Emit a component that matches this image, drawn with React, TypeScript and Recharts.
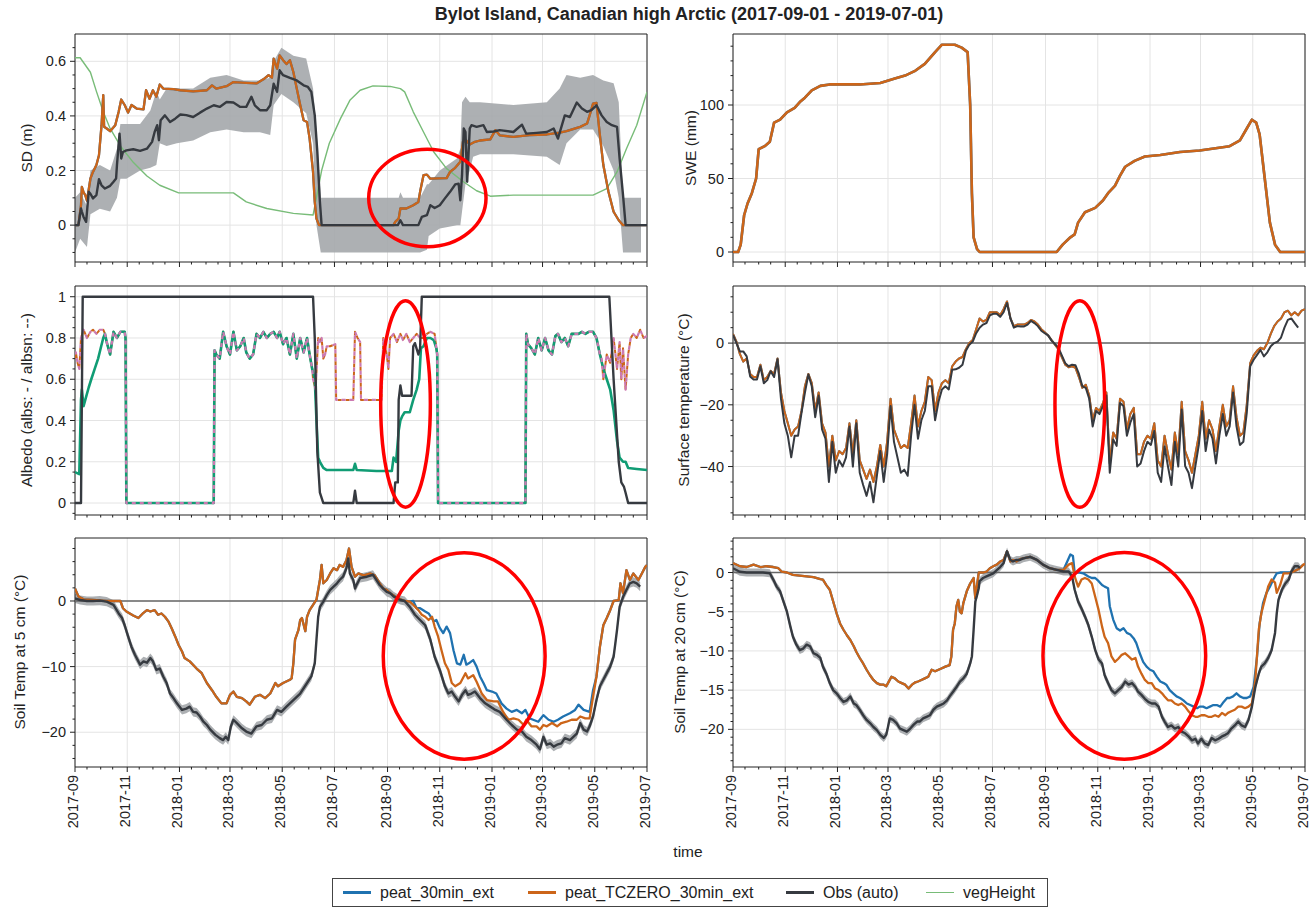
import React from "react";
import {
  ComposedChart,
  Line,
  Area,
  XAxis,
  YAxis,
  ReferenceLine,
  ReferenceArea,
} from "recharts";

const FONT = '"Liberation Sans", Arial, Helvetica, sans-serif';
const BLUE = "#1f72b0";
const ORANGE = "#cc6519";
const OBS = "#363a40";
const GREEN = "#78bc78";
const TEAL = "#109c74";
const PINK = "#cc79b0";
const BAND = "#a4a7ab";
const GRID = "#e4e4e4";
const INK = "#222";
const RED = "#ff0000";

// time axis: days since 2017-09-01
const monthStarts = [0, 30, 61, 91, 122, 153, 181, 212, 242, 273, 303, 334, 365, 395, 426, 456, 487, 518, 546, 577, 607, 638, 668];
const xMajor = [0, 61, 122, 181, 242, 303, 365, 426, 487, 546, 607, 668];
const xMajorLabels = ["2017-09", "2017-11", "2018-01", "2018-03", "2018-05", "2018-07", "2018-09", "2018-11", "2019-01", "2019-03", "2019-05", "2019-07"];
const xTicks = monthStarts.flatMap((m, i) => (i < monthStarts.length - 1 ? [m, m + 14] : [m]));

// ---- snow depth (m)
const sdModelDays = [0, 4, 7, 8, 10, 12, 14, 18, 21, 25, 28, 31, 33, 34, 37, 41, 47, 51, 54, 58, 62, 66, 72, 80, 83, 87, 91, 95, 99, 103, 115, 123, 138, 154, 160, 165, 177, 185, 200, 212, 220, 226, 230, 232, 236, 239, 243, 247, 251, 255, 259, 263, 267, 271, 274, 278, 280, 282, 285, 372, 374, 378, 380, 387, 395, 401, 403, 407, 411, 415, 434, 438, 444, 450, 453, 457, 461, 467, 473, 485, 491, 496, 512, 531, 551, 566, 574, 590, 598, 601, 605, 609, 613, 617, 623, 629, 635, 640, 668];
const sdModel = [0, 0, 0.073, 0.14, 0.12, 0.11, 0.09, 0.17, 0.195, 0.22, 0.256, 0.366, 0.476, 0.36, 0.354, 0.344, 0.366, 0.415, 0.46, 0.44, 0.412, 0.44, 0.427, 0.424, 0.494, 0.463, 0.494, 0.47, 0.515, 0.5, 0.498, 0.494, 0.49, 0.494, 0.512, 0.5, 0.509, 0.524, 0.521, 0.519, 0.534, 0.549, 0.54, 0.61, 0.573, 0.622, 0.604, 0.59, 0.604, 0.561, 0.5, 0.44, 0.384, 0.378, 0.317, 0.195, 0.085, 0.024, 0, 0, 0.012, 0.024, 0.061, 0.061, 0.073, 0.085, 0.122, 0.183, 0.185, 0.17, 0.172, 0.195, 0.21, 0.232, 0.305, 0.31, 0.295, 0.305, 0.31, 0.314, 0.348, 0.329, 0.323, 0.33, 0.332, 0.339, 0.344, 0.36, 0.372, 0.402, 0.445, 0.448, 0.329, 0.22, 0.122, 0.049, 0.018, 0, 0];
const sdObsDays = [0, 4, 7, 8, 10, 13, 16, 18, 21, 25, 28, 31, 35, 41, 45, 48, 49, 52, 54, 56, 60, 68, 76, 84, 90, 93, 96, 98, 100, 105, 111, 117, 123, 130, 138, 146, 154, 162, 169, 177, 185, 193, 200, 206, 210, 216, 224, 228, 232, 236, 239, 243, 251, 259, 267, 272, 276, 280, 283, 286, 288, 377, 380, 383, 401, 405, 411, 415, 420, 426, 432, 438, 444, 448, 450, 452, 454, 456, 458, 461, 463, 469, 477, 481, 489, 496, 512, 522, 527, 539, 551, 559, 564, 572, 578, 586, 592, 598, 603, 609, 615, 621, 627, 633, 636, 640, 643, 668];
const sdObs = [0, 0, 0.061, 0.05, 0.03, 0.012, 0.122, 0.115, 0.098, 0.11, 0.168, 0.146, 0.134, 0.144, 0.159, 0.171, 0.22, 0.335, 0.244, 0.268, 0.274, 0.278, 0.272, 0.28, 0.305, 0.341, 0.366, 0.311, 0.384, 0.402, 0.378, 0.39, 0.405, 0.403, 0.396, 0.412, 0.427, 0.439, 0.433, 0.451, 0.449, 0.433, 0.433, 0.47, 0.439, 0.421, 0.421, 0.439, 0.518, 0.488, 0.567, 0.549, 0.539, 0.53, 0.512, 0.506, 0.488, 0.402, 0.268, 0.085, 0, 0, 0.018, 0, 0, 0.03, 0.037, 0.073, 0.063, 0.073, 0.098, 0.122, 0.149, 0.152, 0.091, 0.183, 0.354, 0.341, 0.159, 0.354, 0.366, 0.36, 0.366, 0.341, 0.343, 0.348, 0.341, 0.368, 0.335, 0.338, 0.341, 0.354, 0.317, 0.402, 0.396, 0.449, 0.427, 0.415, 0.421, 0.439, 0.402, 0.378, 0.366, 0.36, 0.244, 0.11, 0, 0];
const sdBandDays = [0, 6, 14, 18, 29, 41, 49, 53, 60, 76, 88, 95, 99, 107, 119, 138, 158, 177, 197, 216, 228, 232, 241, 255, 270, 278, 282, 287, 378, 380, 383, 403, 411, 413, 426, 446, 450, 452, 456, 461, 465, 473, 512, 551, 566, 574, 590, 605, 617, 629, 635, 640, 661];
const sdBandLo = [-0.1, -0.05, -0.08, 0.04, 0.06, 0.05, 0.1, 0.17, 0.17, 0.2, 0.21, 0.22, 0.3, 0.29, 0.3, 0.31, 0.34, 0.35, 0.34, 0.34, 0.33, 0.44, 0.48, 0.45, 0.41, 0.3, 0.0, -0.1, -0.1, -0.1, -0.1, -0.1, -0.09, -0.04, -0.012, 0, 0, 0.05, 0.15, 0.2, 0.25, 0.26, 0.26, 0.25, 0.22, 0.3, 0.35, 0.35, 0.29, 0.2, 0.1, -0.1, -0.1];
const sdBandHi = [0.1, 0.12, 0.07, 0.2, 0.22, 0.2, 0.28, 0.37, 0.37, 0.37, 0.42, 0.49, 0.46, 0.5, 0.5, 0.5, 0.54, 0.55, 0.53, 0.53, 0.54, 0.6, 0.65, 0.62, 0.61, 0.5, 0.35, 0.1, 0.1, 0.12, 0.1, 0.1, 0.15, 0.15, 0.2, 0.244, 0.28, 0.45, 0.47, 0.45, 0.45, 0.45, 0.44, 0.45, 0.5, 0.55, 0.54, 0.55, 0.53, 0.52, 0.45, 0.1, 0.1];
const vegDays = [0, 6, 18, 25, 33, 41, 53, 68, 84, 99, 121, 185, 200, 224, 255, 278, 288, 297, 310, 321, 333, 348, 368, 380, 385, 395, 407, 419, 434, 454, 469, 485, 512, 605, 621, 633, 644, 656, 668];
const vegHeight = [0.613, 0.613, 0.56, 0.49, 0.415, 0.354, 0.29, 0.23, 0.18, 0.146, 0.118, 0.118, 0.085, 0.061, 0.043, 0.037, 0.2, 0.3, 0.39, 0.457, 0.494, 0.51, 0.508, 0.5, 0.488, 0.415, 0.341, 0.268, 0.207, 0.158, 0.126, 0.106, 0.11, 0.11, 0.134, 0.195, 0.28, 0.366, 0.488];

// ---- SWE (mm)
const sweDays = [0, 6, 9, 13, 17, 22, 27, 30, 37, 43, 48, 55, 63, 72, 78, 84, 92, 102, 113, 148, 172, 189, 201, 212, 224, 236, 244, 259, 267, 274, 277, 279, 281, 285, 288, 378, 385, 394, 399, 403, 411, 423, 432, 438, 446, 452, 458, 469, 481, 499, 522, 545, 580, 592, 600, 606, 611, 615, 621, 627, 633, 639, 668];
const swe = [0, 0, 5, 25, 33, 40, 50, 70, 72, 75, 88, 90, 95, 98, 102, 105, 110, 113, 114, 114, 115, 118, 120, 123, 128, 136, 141, 141, 139, 136, 100, 40, 10, 2, 0, 0, 5, 10, 12, 20, 27, 30, 35, 40, 45, 52, 58, 62, 65, 66, 68, 69, 72, 76, 84, 90, 88, 80, 50, 20, 5, 0, 0];

// ---- albedo
const albObsDays = [0, 7, 8, 9, 278, 280, 283, 286, 290, 325, 327, 329, 372, 374, 377, 378, 380, 382, 393, 395, 397, 401, 403, 405, 624, 629, 635, 638, 641, 643, 646, 668];
const albObs = [0, 0, 0.5, 1, 1, 0.8, 0.25, 0.05, 0, 0, 0.06, 0, 0, 0.1, 0.1, 0.5, 0.57, 0.52, 0.52, 0.76, 0.775, 0.72, 0.75, 1, 1, 0.6, 0.2, 0.1, 0.08, 0.05, 0, 0];
const albSharedADays = [37, 41, 45, 49, 53, 58, 59, 60, 162, 163, 165, 169, 173, 177, 181, 185, 189, 193, 197, 200, 204, 208, 212, 216, 220, 224, 228, 232, 236, 239, 243, 247, 251, 255, 259, 263, 267, 271, 274, 277];
const albSharedA = [0.78, 0.72, 0.83, 0.8, 0.83, 0.83, 0.8, 0, 0, 0.74, 0.72, 0.7, 0.83, 0.76, 0.72, 0.83, 0.74, 0.76, 0.8, 0.73, 0.7, 0.72, 0.82, 0.8, 0.83, 0.8, 0.82, 0.83, 0.8, 0.83, 0.77, 0.8, 0.72, 0.82, 0.7, 0.8, 0.73, 0.8, 0.72, 0.65];
const albSharedBDays = [424, 526, 527, 529, 533, 537, 541, 545, 549, 553, 557, 561, 564, 568, 572, 576, 580, 584, 588, 592, 596, 600, 605, 609, 613];
const albSharedB = [0, 0, 0.82, 0.77, 0.75, 0.72, 0.8, 0.74, 0.8, 0.74, 0.72, 0.81, 0.82, 0.78, 0.8, 0.76, 0.82, 0.82, 0.82, 0.83, 0.82, 0.83, 0.83, 0.8, 0.72];
const albsStartDays = [0, 5, 7, 8, 10, 12, 16, 19, 23, 27, 30, 33, 35];
const albsStart = [0.15, 0.14, 0.5, 0.55, 0.47, 0.5, 0.56, 0.6, 0.65, 0.7, 0.75, 0.8, 0.82];
const albsMidDays = [280, 282, 284, 286, 290, 294, 325, 327, 329, 352, 370, 372, 375, 378, 380, 382, 385, 391, 395, 399, 402, 404, 407, 411, 415, 419, 422, 423];
const albsMid = [0.6, 0.4, 0.22, 0.2, 0.17, 0.16, 0.16, 0.19, 0.16, 0.155, 0.155, 0.22, 0.2, 0.35, 0.4, 0.42, 0.44, 0.44, 0.5, 0.55, 0.6, 0.75, 0.76, 0.8, 0.8, 0.79, 0.75, 0.72];
const albsEndDays = [617, 621, 625, 629, 633, 636, 640, 643, 646, 656, 668];
const albsEnd = [0.65, 0.6, 0.55, 0.45, 0.3, 0.22, 0.2, 0.2, 0.17, 0.165, 0.16];
const albsnStartDays = [0, 1, 3, 5, 7, 10, 14, 18, 21, 25, 29, 33, 35];
const albsnStart = [0.7, 0.73, 0.68, 0.65, 0.8, 0.84, 0.8, 0.83, 0.84, 0.82, 0.84, 0.84, 0.82];
const albsnMidDays = [278, 281, 284, 286, 288, 290, 292, 294, 298, 304, 305, 325, 327, 330, 333, 334, 358, 360, 364, 366, 368, 372, 376, 380, 383, 387, 391, 395, 399, 403, 407, 411, 415, 420, 423];
const albsnMid = [0.6, 0.55, 0.8, 0.78, 0.8, 0.7, 0.72, 0.76, 0.76, 0.77, 0.5, 0.5, 0.83, 0.8, 0.78, 0.5, 0.5, 0.8, 0.72, 0.65, 0.8, 0.82, 0.78, 0.82, 0.79, 0.82, 0.78, 0.8, 0.82, 0.8, 0.8, 0.82, 0.83, 0.82, 0.72];
const albsnEndDays = [615, 617, 621, 625, 629, 633, 636, 638, 640, 643, 646, 649, 652, 656, 660, 664, 668];
const albsnEnd = [0.7, 0.6, 0.72, 0.68, 0.8, 0.65, 0.78, 0.6, 0.75, 0.55, 0.72, 0.8, 0.82, 0.8, 0.84, 0.8, 0.81];

// ---- surface temperature (°C), sampled every 4 days
const tsDays = Array.from({ length: 168 }, (_, i) => i * 4);
const tsObs = [
  2.7, 0, -2.7, -2.7, -4.3, -10.8, -11.8, -11.8, -7.5, -13,
  -12, -9.1, -11, -5.2, -18, -26, -30, -37, -30, -30,
  -22.6, -16, -10.2, -14, -24, -17, -28, -31, -45, -32,
  -42, -38, -40, -37, -27, -40, -26, -42, -46, -49.5,
  -45, -51.6, -43, -35, -45, -36, -20.4, -32, -37, -42,
  -41, -43, -30, -20, -31, -25, -22, -14, -14, -25,
  -19, -15, -14, -15, -8.6, -8.5, -8, -7, -2.5, -0.5,
  0.5, 3.2, 5, 6, 6.5, 9, 9.5, 9.5, 8.5, 10,
  13, 8, 5, 5.5,
  5.4, 5.4, 6, 7.2, 6.5, 5.5, 4, 3.2, 2.5, 0.8,
  -0.3, -1.5, -4, -6.5, -7.5, -7, -7.2, -10, -14, -14.5,
  -18, -27, -22, -23, -20.4, -17, -42, -31.2, -33.3, -19.4,
  -20.4, -30, -25.8, -23, -40, -39, -35, -32, -33, -28.5,
  -42, -45, -33.5, -40, -46, -32, -40, -21.5, -39.8, -42,
  -47, -39.8, -33, -22, -35, -28, -31, -39, -30, -23,
  -30, -27, -16, -27, -33, -32, -22.6, -7.5, -5.4, -3.8,
  -2.2, -4.3, -3, -1, 0, 0.5, 1.8, 5, 7.5, 8,
  6.5, 5, null, null,
];
const tsModel = [
  3, 0.5, -3.5, -6, -5, -10, -11, -11, -7, -12,
  -11, -9, -10, -5, -16, -22, -26, -30, -28, -27,
  -22, -14, -10, -13, -22, -16, -26, -29, -40, -30,
  -38, -35, -36, -34, -26, -36, -25, -38, -41, -44,
  -41, -45, -40, -33, -40, -32, -18, -28, -31, -34,
  -33, -34, -26, -17, -27, -22, -19, -11, -12, -22,
  -16, -13, -12, -13, -7.5, -6, -5, -4.5, -2, 0,
  1, 4.5, 8, 7, 7.5, 10, 10, 10, 9, 11,
  13.5, 8, 5.5, 6,
  6, 6, 6.5, 7.5, 7, 6, 4.5, 3.5, 2.5, 1,
  -0.5, -2, -4.5, -7, -7.8, -7.5, -8, -11, -14.5, -13.5,
  -17, -25, -21, -22, -19.5, -16, -39, -29, -31, -18,
  -19, -28, -23, -21, -36, -36, -32, -30, -31, -26,
  -38, -40, -30, -36, -41, -29, -36, -19, -35, -38,
  -42, -36, -30, -19, -31, -25, -28, -35, -27, -20,
  -27, -25, -14, -24, -30, -29, -20, -6.5, -4, -2.5,
  -1.5, -2, 0, 3, 5.5, 7, 8, 10, 10.5, 9,
  10, 9, 10.5, 11,
];

// ---- soil temperature at 5 cm (°C)
const soil5ObsDays = [0, 6, 14, 21, 29, 37, 45, 51, 55, 58, 62, 66, 70, 76, 80, 84, 88, 91, 95, 99, 103, 107, 111, 115, 119, 125, 130, 134, 138, 142, 146, 150, 154, 158, 164, 169, 173, 176, 179, 182, 185, 189, 195, 200, 206, 212, 218, 224, 230, 236, 241, 247, 255, 263, 271, 276, 280, 282, 284, 286, 290, 294, 298, 302, 306, 309, 313, 317, 319, 321, 325, 327, 329, 333, 341, 348, 356, 360, 364, 368, 372, 376, 380, 385, 391, 397, 403, 409, 415, 420, 426, 432, 436, 440, 444, 448, 452, 456, 459, 463, 467, 473, 479, 485, 491, 496, 504, 510, 516, 522, 527, 533, 539, 543, 547, 551, 555, 559, 563, 568, 572, 578, 582, 586, 590, 594, 598, 601, 605, 609, 613, 617, 621, 625, 629, 631, 633, 636, 640, 644, 648, 652, 656, 660];
const soil5Obs = [0.4, 0.15, 0, 0, 0.05, -0.1, -0.6, -1.9, -2.6, -3.7, -5.4, -7, -8.2, -9.7, -9.2, -9.4, -8.7, -9.2, -10.5, -10.3, -11.5, -12.5, -14.1, -14.8, -15.6, -16.6, -16.4, -16.1, -16.9, -17, -17.6, -18.4, -18.9, -19.6, -20.4, -20.9, -21.2, -20.7, -21.2, -19.1, -18.1, -18.6, -19.4, -19.9, -20.2, -19.1, -18.9, -18.1, -17.9, -16.6, -16.9, -16.1, -15.1, -14.1, -12.5, -11.5, -9.5, -5.9, -2.4, -0.9, -0.1, 0.9, 1.7, 2.2, 2.7, 3.2, 3.7, 5, 6.5, 4.2, 3.2, 1.9, 2.5, 3.5, 3.7, 4, 2.4, 1.9, 1.4, 1.2, 0.7, 0.4, 0.15, 0, -0.9, -2.1, -2.9, -3.7, -5.9, -8.5, -10.5, -13, -14.1, -13.8, -14.6, -15.3, -14.3, -13.6, -14.3, -14.1, -13.8, -14.8, -15.6, -16.1, -16.6, -16.9, -18.1, -18.9, -19.6, -19.9, -20.7, -21.2, -21.9, -22.6, -20.7, -21.9, -21.7, -22.2, -21.9, -21.7, -20.9, -21.2, -20.7, -20.2, -18.6, -19.6, -19.9, -19.1, -17.6, -15.1, -13, -12, -11, -10, -8.5, -6.5, -4.4, -0.9, 0.6, 1.7, 2.7, 2.9, 2.7, 2.2];
const soil5Spread = 0.7;
const soil5ModelY1Days = [0, 4, 10, 21, 37, 53, 56, 60, 64, 68, 74, 80, 84, 88, 93, 97, 101, 105, 109, 113, 117, 121, 125, 128, 134, 142, 148, 154, 160, 165, 171, 177, 181, 185, 189, 195, 200, 204, 210, 216, 222, 228, 234, 237, 243, 251, 253, 255, 257, 261, 263, 265, 269, 271, 274, 278, 282, 286, 288, 290, 294, 298, 302, 306, 309, 313, 317, 320, 323, 327, 331, 337, 345, 350, 356, 360, 364, 368, 374, 380, 385, 391];
const soil5ModelY1 = [1.9, 0.7, 0.25, 0.15, 0, 0, -1.1, -1.6, -1.9, -2.2, -2.6, -1.8, -1.4, -1.6, -1.4, -2.1, -1.9, -2.4, -3.1, -4.2, -5.4, -6.7, -7.7, -8.7, -9.2, -10.3, -11, -12.5, -13.6, -14.6, -15.6, -15.6, -14.3, -13.8, -14.6, -14.8, -15.3, -15.8, -14.6, -14.3, -14.8, -14.1, -12.5, -13, -12.5, -12, -11.8, -9.5, -5.9, -4.4, -2.9, -2.6, -4.6, -2.4, -1.4, -0.6, 0.2, 3.2, 5.5, 2.7, 3.2, 4.2, 5, 4.7, 5.5, 5.2, 6.2, 8, 5.2, 3.7, 4.2, 3.9, 4.2, 3.9, 2.7, 1.9, 1.7, 1.2, 0.7, 0.25, 0, -0.1];
const soil5OrangeDays = [395, 401, 405, 409, 413, 417, 420, 424, 428, 432, 436, 440, 444, 450, 456, 459, 465, 469, 475, 481, 489, 494, 500, 506, 512, 518, 524, 527, 533, 539, 543, 547, 551, 557, 563, 568, 574, 580, 586, 590, 596, 601, 605];
const soil5Orange = [-0.6, -1.4, -2.1, -2.4, -2.9, -2.4, -3.9, -5.4, -7.5, -9.5, -10.5, -12.5, -13, -12.5, -11, -11.8, -11.3, -12.3, -14.1, -15.1, -15.3, -15.3, -16.9, -18.1, -17.9, -18.1, -18.9, -18.1, -19.1, -19.1, -19.6, -18.9, -19.1, -18.6, -19.1, -18.6, -18.4, -18.1, -18.1, -17.6, -17.9, -17.9, -14.6];
const soil5BlueDays = [395, 399, 403, 409, 413, 419, 422, 426, 430, 434, 438, 442, 446, 450, 454, 457, 461, 465, 469, 473, 477, 481, 487, 492, 498, 504, 510, 516, 522, 526, 531, 535, 541, 547, 553, 559, 564, 570, 578, 584, 588, 594, 601, 605];
const soil5Blue = [0, -1.1, -1.1, -1.6, -1.9, -3.1, -2.9, -4.1, -4.9, -3.9, -4.9, -7.5, -9.5, -9.7, -8.2, -9.7, -9.4, -9, -10, -11.5, -12.5, -13.6, -13.8, -14.1, -15.6, -16.4, -16.9, -16.6, -17.1, -16.6, -17.9, -18.1, -18.4, -17.4, -18.1, -18.4, -18.1, -17.6, -17.1, -16.6, -15.8, -16.6, -16.9, -13.6];
const soil5ModelEndDays = [609, 613, 617, 621, 625, 629, 635, 637, 640, 644, 648, 652, 658, 662, 666, 668];
const soil5ModelEnd = [-11.5, -7, -3.7, -2.6, -1.4, 0, 0.15, 2.7, 1.2, 4.7, 3.2, 4.2, 3.2, 4.2, 5.2, 5.5];

// ---- soil temperature at 20 cm (°C)
const soil20ObsDays = [0, 8, 16, 24, 35, 43, 47, 51, 55, 59, 63, 67, 70, 74, 78, 82, 86, 90, 94, 98, 102, 105, 109, 113, 117, 121, 125, 129, 133, 137, 141, 144, 148, 152, 156, 160, 164, 168, 172, 176, 179, 181, 183, 187, 191, 195, 199, 203, 207, 211, 215, 218, 222, 226, 230, 234, 238, 242, 246, 250, 253, 257, 261, 265, 269, 273, 277, 279, 281, 283, 285, 287, 288, 292, 296, 300, 304, 308, 312, 316, 320, 322, 324, 327, 331, 335, 339, 347, 351, 355, 362, 370, 378, 386, 392, 396, 399, 403, 407, 411, 415, 419, 423, 427, 431, 434, 438, 442, 446, 450, 454, 458, 462, 466, 470, 473, 477, 481, 485, 489, 493, 497, 501, 504, 508, 512, 516, 520, 524, 528, 532, 536, 540, 543, 547, 551, 555, 559, 563, 567, 571, 575, 578, 582, 586, 590, 594, 598, 602, 606, 610, 614, 617, 621, 625, 629, 633, 635, 637, 641, 645, 649, 652, 656, 660, 662];
const soil20Obs = [0.55, 0.1, 0, 0, 0, -0.1, -0.9, -1.8, -2.4, -3.7, -5, -6.9, -8.2, -9.2, -9.9, -9.7, -9.2, -9.4, -10.3, -10.5, -10.9, -12, -12.9, -14.1, -15, -15.4, -16, -16.5, -16.3, -15.8, -16.7, -16.9, -17.5, -18.2, -18.8, -19.2, -19.7, -20.1, -20.7, -21.1, -20.7, -19.7, -18.6, -18.8, -19.2, -19.9, -20.1, -20.3, -19.9, -19.4, -19, -19, -18.6, -18.4, -18.2, -17.5, -17.1, -16.9, -16.7, -16.3, -15.8, -15.2, -14.6, -13.9, -13.5, -12.9, -11.6, -10.7, -7.3, -3.7, -2.9, -2, -1.1, -0.7, -0.5, -0.3, -0.1, 0.3, 0.7, 1.2, 2.7, 2.1, 1.6, 1.4, 1.6, 1.6, 1.8, 2, 1.8, 1.6, 1, 0.55, 0.34, 0.13, 0.13, -0.5, -2.2, -3.7, -4.6, -5.6, -6.7, -8.2, -9.9, -11.1, -11.6, -13.1, -14.1, -15, -15.4, -15, -14.6, -13.9, -14.3, -14.1, -14.6, -15.2, -15.6, -16.1, -16.5, -16.7, -16.7, -17.1, -18.4, -19, -19.7, -19.5, -19.9, -19.7, -20.3, -20.5, -20.9, -21.4, -21.2, -21.8, -21.2, -21.8, -22, -21.1, -21.4, -21.2, -20.9, -20.7, -20.5, -19.9, -19.5, -19, -19.5, -19.7, -18.8, -17.1, -14.6, -12.9, -12, -11.6, -10.9, -9.9, -7.7, -5.2, -3.5, -2.2, -1.4, -0.9, 0.1, 0.8, 0.8, 0.55];
const soil20Spread = 0.5;
const soil20ModelY1Days = [0, 8, 16, 24, 32, 39, 47, 53, 57, 63, 70, 78, 86, 94, 102, 105, 109, 113, 117, 121, 125, 129, 133, 137, 141, 144, 148, 152, 156, 160, 164, 168, 172, 176, 179, 181, 185, 189, 193, 197, 201, 205, 209, 213, 216, 220, 224, 228, 232, 236, 240, 244, 248, 253, 255, 257, 259, 261, 263, 265, 267, 269, 273, 277, 281, 283, 287, 292, 296, 300, 304, 308, 312, 316, 320, 324, 327, 331, 335, 339, 347, 355, 362, 370, 378, 386];
const soil20ModelY1 = [1.2, 0.8, 0.7, 1, 0.7, 0.8, 0.7, 0.55, 0.1, 0, -0.3, -0.4, -0.5, -0.6, -0.85, -0.9, -1.6, -2.2, -3.7, -5.2, -6.5, -7.3, -8, -8.6, -9.4, -10.1, -10.9, -11.6, -12.4, -13.1, -13.7, -14.1, -14.3, -14.3, -14.5, -14.1, -13.3, -13.5, -13.9, -14.1, -14.3, -14.8, -14.3, -14, -13.9, -13.7, -13.5, -13.3, -12.4, -12.6, -12.4, -12.2, -12, -11.8, -10.7, -7.3, -6.5, -4.3, -3.5, -5, -5.2, -3.9, -2.4, -1.4, -0.7, -3.3, 0, 0, 0.1, 0.55, 0.8, 1, 1.4, 1.6, 2.7, 1.4, 1.6, 1.4, 1.7, 1.8, 2, 1.6, 1, 0.55, 0.34, 0.34];
const soil20OrangeDays = [392, 396, 399, 403, 407, 411, 415, 419, 423, 427, 431, 434, 438, 442, 446, 450, 454, 458, 462, 466, 470, 473, 477, 481, 485, 489, 493, 497, 501, 504, 508, 512, 516, 520, 524, 528, 532, 536, 540, 543, 547, 551, 555, 559, 563, 567, 571, 575, 578, 582, 586, 590, 594, 598, 602, 606, 610, 614, 617, 621, 625, 629, 633, 635, 639, 643, 649, 654, 658, 662, 666, 668];
const soil20Orange = [1, 1.2, -0.5, -1.8, -0.9, -0.7, -0.9, -1.4, -3.1, -4.8, -6.9, -8.2, -9, -10.7, -11.4, -11, -10.5, -10.3, -10.7, -11.1, -10.9, -12, -12.9, -13.7, -14.1, -14.1, -14.8, -15, -15.4, -15.8, -16.3, -16.3, -16.7, -16.9, -16.7, -17.1, -17.7, -18.2, -18.4, -18.4, -18.2, -18.2, -18.4, -18.4, -18.2, -18.4, -17.9, -18.2, -17.9, -17.7, -17.5, -17.1, -17.1, -17.3, -17.1, -16.7, -13.7, -7.3, -5.2, -3.5, -1.8, -0.9, -1.3, -2.6, -1.6, -0.1, -0.1, 0.1, 0.3, 0.55, 1, 1.1];
const soil20BlueDays = [394, 397, 399, 405, 409, 415, 419, 423, 427, 431, 434, 438, 440, 444, 448, 452, 456, 460, 464, 468, 471, 475, 479, 483, 487, 491, 495, 499, 503, 506, 510, 514, 518, 522, 526, 530, 534, 538, 542, 545, 549, 553, 557, 561, 565, 569, 573, 577, 580, 584, 588, 592, 596, 600, 604, 608, 612, 615, 619, 623, 627, 631, 635, 639, 651, 658, 666];
const soil20Blue = [2.3, 2.1, 0, 0, -0.1, -0.5, -0.7, -0.7, -1.1, -1.6, -1.8, -2, -4.3, -6, -7.1, -7.4, -7.1, -7.7, -7.9, -8.4, -9, -10.3, -11.4, -12, -12.4, -12.6, -13.3, -13.9, -14.1, -14.3, -15, -15.4, -15.8, -16, -16.3, -16.7, -16.9, -17.1, -17.3, -17.1, -17.1, -17.3, -17.1, -16.9, -16.9, -17.1, -16.5, -16, -16, -15.8, -15.4, -15.8, -16, -16, -15.8, -14.6, -10.7, -6.5, -3.9, -2.6, -1.8, -0.9, -0.1, 0, 0, 0.3, 1];

// ---- y ticks
const sdTicks = [-0.1, -0.05, 0, 0.05, 0.1, 0.15, 0.2, 0.25, 0.3, 0.35, 0.4, 0.45, 0.5, 0.55, 0.6, 0.65];
const sdMajor = [0, 0.2, 0.4, 0.6];
const sweTicks = [0, 10, 20, 30, 40, 50, 60, 70, 80, 90, 100, 110, 120, 130, 140];
const sweMajor = [0, 50, 100];
const albTicks = [-0.05, 0, 0.05, 0.1, 0.15, 0.2, 0.25, 0.3, 0.35, 0.4, 0.45, 0.5, 0.55, 0.6, 0.65, 0.7, 0.75, 0.8, 0.85, 0.9, 0.95, 1];
const albMajor = [0, 0.2, 0.4, 0.6, 0.8, 1];
const tsTicks = [-55, -50, -45, -40, -35, -30, -25, -20, -15, -10, -5, 0, 5, 10, 15];
const tsMajor = [-40, -20, 0];
const soil5Ticks = [-24, -22, -20, -18, -16, -14, -12, -10, -8, -6, -4, -2, 0, 2, 4, 6, 8];
const soil5Major = [-20, -10, 0];
const soil20Ticks = [-24, -23, -22, -21, -20, -19, -18, -17, -16, -15, -14, -13, -12, -11, -10, -9, -8, -7, -6, -5, -4, -3, -2, -1, 0, 1, 2, 3, 4];
const soil20Major = [-20, -15, -10, -5, 0];

// red ellipses drawn on the figure (data units)
const sdMark = { x1: 343, x2: 480, y1: -0.079, y2: 0.278 };
const albMark = { x1: 357, x2: 415, y1: -0.02, y2: 0.98 };
const tsMark = { x1: 376, x2: 434, y1: -53.2, y2: 13.7 };
const soil5Mark = { x1: 360, x2: 549, y1: -24.1, y2: 7.35 };
const soil20Mark = { x1: 362, x2: 552, y1: -23.8, y2: 2.55 };

type Pt = { d: number; v: number | null };
const zip = (days: number[], vals: (number | null)[]): Pt[] => days.map((d, i) => ({ d, v: vals[i] }));
const band = (days: number[], lo: number[], hi: number[]) => days.map((d, i) => ({ d, r: [lo[i], hi[i]] }));
const spread = (days: number[], vals: number[], s: number) => days.map((d, i) => ({ d, r: [vals[i] - s, vals[i] + s] }));

const sdModelData = zip(sdModelDays, sdModel);
const sdObsData = zip(sdObsDays, sdObs);
const sdBandData = band(sdBandDays, sdBandLo, sdBandHi);
const vegData = zip(vegDays, vegHeight);
const sweData = zip(sweDays, swe);
const albObsData = zip(albObsDays, albObs);
const albsData = zip(
  [...albsStartDays, ...albSharedADays, ...albsMidDays, ...albSharedBDays, ...albsEndDays],
  [...albsStart, ...albSharedA, ...albsMid, ...albSharedB, ...albsEnd]
);
const albsnData = zip(
  [...albsnStartDays, ...albSharedADays, ...albsnMidDays, ...albSharedBDays, ...albsnEndDays],
  [...albsnStart, ...albSharedA, ...albsnMid, ...albSharedB, ...albsnEnd]
);
const tsObsData = zip(tsDays, tsObs);
const tsModelData = zip(tsDays, tsModel);
const soil5ObsData = zip(soil5ObsDays, soil5Obs);
const soil5BandData = spread(soil5ObsDays, soil5Obs, soil5Spread);
const soil5OrangeData = zip(
  [...soil5ModelY1Days, ...soil5OrangeDays, ...soil5ModelEndDays],
  [...soil5ModelY1, ...soil5Orange, ...soil5ModelEnd]
);
const soil5BlueData = zip(
  [...soil5ModelY1Days, ...soil5BlueDays, ...soil5ModelEndDays],
  [...soil5ModelY1, ...soil5Blue, ...soil5ModelEnd]
);
const soil20ObsData = zip(soil20ObsDays, soil20Obs);
const soil20BandData = spread(soil20ObsDays, soil20Obs, soil20Spread);
const soil20OrangeData = zip([...soil20ModelY1Days, ...soil20OrangeDays], [...soil20ModelY1, ...soil20Orange]);
const soil20BlueData = zip([...soil20ModelY1Days, ...soil20BlueDays], [...soil20ModelY1, ...soil20Blue]);

// layout
const YW = 75;
const MT = 6;
const PW = 572;
const colLeft = [75, 733];
const colMR = [10, 8];
const rowTop = [34, 286, 538];
const rowH = [228, 229, 229];
const TICK_FS = 14.5;
const LABEL_FS = 15.5;

const fmtNum = (v: number) => (v < 0 ? "\u2212" : "") + String(Math.abs(v));

const xTick = (showLabels: boolean) => (p: any) => {
  const i = xMajor.indexOf(p.payload.value);
  const major = i >= 0;
  const ty = p.y + 8;
  const tx = p.x - 2;
  return (
    <g>
      <line x1={p.x} x2={p.x} y1={p.y} y2={p.y + (major ? 5 : 2.5)} stroke={INK} strokeWidth={1} />
      {showLabels && major && (
        <text x={tx} y={ty} transform={`rotate(-90 ${tx} ${ty})`} textAnchor="end" dominantBaseline="central" fontSize={TICK_FS} fill={INK} fontFamily={FONT}>
          {xMajorLabels[i]}
        </text>
      )}
    </g>
  );
};

const yTick = (major: number[]) => (p: any) => {
  const v = p.payload.value;
  const isMajor = major.includes(v);
  return (
    <g>
      <line x1={p.x} x2={p.x - (isMajor ? 5 : 2.5)} y1={p.y} y2={p.y} stroke={INK} strokeWidth={1} />
      {isMajor && (
        <text x={p.x - 9} y={p.y} textAnchor="end" dominantBaseline="central" fontSize={TICK_FS} fill={INK} fontFamily={FONT}>
          {fmtNum(v)}
        </text>
      )}
    </g>
  );
};

const ellipse = (p: any) => (
  <ellipse cx={p.x + p.width / 2} cy={p.y + p.height / 2} rx={p.width / 2} ry={p.height / 2} fill="none" stroke={RED} strokeWidth={3.5} />
);

const line = (key: string, data: Pt[], color: string, width: number, dash?: string, offset?: number) => (
  <Line
    key={key}
    data={data}
    dataKey="v"
    type="linear"
    stroke={color}
    strokeWidth={width}
    strokeDasharray={dash}
    strokeDashoffset={offset}
    strokeLinejoin="round"
    dot={false}
    activeDot={false}
    isAnimationActive={false}
  />
);

const area = (key: string, data: any[]) => (
  <Area key={key} data={data} dataKey="r" type="linear" stroke="none" fill={BAND} fillOpacity={0.9} isAnimationActive={false} />
);

type Mark = { x1: number; x2: number; y1: number; y2: number };

function Panel(props: {
  col: number;
  row: number;
  domain: [number, number];
  yTicks: number[];
  yMajor: number[];
  zero?: boolean;
  mark?: Mark;
  children: React.ReactNode;
}) {
  const { col, row, domain, yTicks, yMajor, zero, mark, children } = props;
  const bottom = row === 2;
  const xh = bottom ? 80 : 10;
  const ph = rowH[row];
  const mr = colMR[col];
  return (
    <div style={{ position: "absolute", left: colLeft[col] - YW, top: rowTop[row] - MT }}>
      <ComposedChart width={YW + PW + mr} height={MT + ph + xh} margin={{ top: MT, right: mr, bottom: 0, left: 0 }}>
        {xMajor.map((v) => (
          <ReferenceLine key={`gx${v}`} x={v} stroke={GRID} strokeWidth={1} zIndex={-50} />
        ))}
        {yMajor.map((v) => (
          <ReferenceLine key={`gy${v}`} y={v} stroke={GRID} strokeWidth={1} zIndex={-50} />
        ))}
        <XAxis
          type="number"
          dataKey="d"
          domain={[0, 668]}
          ticks={xTicks}
          interval={0}
          tickSize={0}
          tickMargin={0}
          tickLine={false}
          axisLine={false}
          height={xh}
          tick={xTick(bottom)}
          allowDataOverflow
        />
        <YAxis
          type="number"
          domain={domain}
          ticks={yTicks}
          interval={0}
          tickSize={0}
          tickMargin={0}
          tickLine={false}
          axisLine={false}
          width={YW}
          tick={yTick(yMajor)}
          allowDataOverflow
        />
        {zero && <ReferenceLine y={0} stroke="#666" strokeWidth={1.5} />}
        {children}
        <ReferenceArea x1={0} x2={668} y1={domain[0]} y2={domain[1]} fill="none" stroke={INK} strokeWidth={1} ifOverflow="visible" />
        {mark && (
          <ReferenceArea x1={mark.x1} x2={mark.x2} y1={mark.y1} y2={mark.y2} shape={ellipse} ifOverflow="visible" zIndex={1000} />
        )}
      </ComposedChart>
    </div>
  );
}

const yTitle = (text: string, cx: number, cy: number) => (
  <div
    key={text}
    style={{
      position: "absolute",
      left: cx,
      top: cy,
      transform: "translate(-50%, -50%) rotate(-90deg)",
      whiteSpace: "nowrap",
      fontSize: LABEL_FS,
      color: INK,
    }}
  >
    {text}
  </div>
);

const legendItems = [
  { label: "peat_30min_ext", color: BLUE, w: 2.5, left: 10 },
  { label: "peat_TCZERO_30min_ext", color: ORANGE, w: 2.5, left: 195 },
  { label: "Obs (auto)", color: OBS, w: 2.5, left: 453 },
  { label: "vegHeight", color: GREEN, w: 1.5, left: 593 },
];

export default function App() {
  return (
    <div
      style={{
        position: "absolute",
        left: 0,
        top: 0,
        width: 1312,
        height: 908,
        overflow: "hidden",
        background: "#fff",
        fontFamily: FONT,
      }}
    >
      <div
        style={{
          position: "absolute",
          left: 689,
          top: 4,
          transform: "translateX(-50%)",
          whiteSpace: "nowrap",
          fontSize: 18,
          fontWeight: 700,
          color: INK,
        }}
      >
        Bylot Island, Canadian high Arctic (2017-09-01 - 2019-07-01)
      </div>

      <Panel col={0} row={0} domain={[-0.135, 0.7]} yTicks={sdTicks} yMajor={sdMajor} mark={sdMark}>
        {area("band", sdBandData)}
        {line("veg", vegData, GREEN, 1.4)}
        {line("blue", sdModelData, BLUE, 2.3)}
        {line("orange", sdModelData, ORANGE, 2.3)}
        {line("obs", sdObsData, OBS, 2.4)}
      </Panel>

      <Panel col={1} row={0} domain={[-6.8, 148.3]} yTicks={sweTicks} yMajor={sweMajor}>
        {line("blue", sweData, BLUE, 2.6)}
        {line("orange", sweData, ORANGE, 2.6)}
      </Panel>

      <Panel col={0} row={1} domain={[-0.058, 1.052]} yTicks={albTicks} yMajor={albMajor} mark={albMark}>
        {line("albsn2", albsnData, ORANGE, 2, "4 4", 0)}
        {line("albs", albsData, TEAL, 2.6)}
        {line("albsn", albsnData, PINK, 2.2, "4 4", 4)}
        {line("obs", albObsData, OBS, 2.4)}
      </Panel>

      <Panel col={1} row={1} domain={[-55.7, 18.5]} yTicks={tsTicks} yMajor={tsMajor} zero mark={tsMark}>
        {line("blue", tsModelData, BLUE, 2)}
        {line("orange", tsModelData, ORANGE, 2)}
        {line("obs", tsObsData, OBS, 2)}
      </Panel>

      <Panel col={0} row={2} domain={[-25.3, 9.6]} yTicks={soil5Ticks} yMajor={soil5Major} zero mark={soil5Mark}>
        {area("band", soil5BandData)}
        {line("blue", soil5BlueData, BLUE, 2.3)}
        {line("orange", soil5OrangeData, ORANGE, 2.3)}
        {line("obs", soil5ObsData, OBS, 2.4)}
      </Panel>

      <Panel col={1} row={2} domain={[-24.8, 4.4]} yTicks={soil20Ticks} yMajor={soil20Major} zero mark={soil20Mark}>
        {area("band", soil20BandData)}
        {line("blue", soil20BlueData, BLUE, 2.3)}
        {line("orange", soil20OrangeData, ORANGE, 2.3)}
        {line("obs", soil20ObsData, OBS, 2.4)}
      </Panel>

      {yTitle("SD (m)", 27, 148)}
      {yTitle("Albedo (albs: - / albsn: --)", 27, 400)}
      {yTitle("Soil Temp at 5 cm (\u00b0C)", 20, 652)}
      {yTitle("SWE (mm)", 691, 148)}
      {yTitle("Surface temperature (\u00b0C)", 684, 400)}
      {yTitle("Soil Temp at 20 cm (\u00b0C)", 680, 652)}

      <div style={{ position: "absolute", left: 688, top: 852, transform: "translate(-50%, -50%)", fontSize: LABEL_FS, color: INK }}>time</div>

      <div
        style={{
          position: "absolute",
          left: 332,
          top: 878,
          width: 716,
          height: 29,
          boxSizing: "border-box",
          border: "1px solid #444",
          fontSize: 16,
          color: INK,
        }}
      >
        {legendItems.map((it) => (
          <div key={it.label} style={{ position: "absolute", left: it.left, top: 0, height: 27, display: "flex", alignItems: "center", whiteSpace: "nowrap" }}>
            <span style={{ display: "inline-block", width: 28, height: it.w, background: it.color, marginRight: 9 }} />
            <span>{it.label}</span>
          </div>
        ))}
      </div>
    </div>
  );
}
